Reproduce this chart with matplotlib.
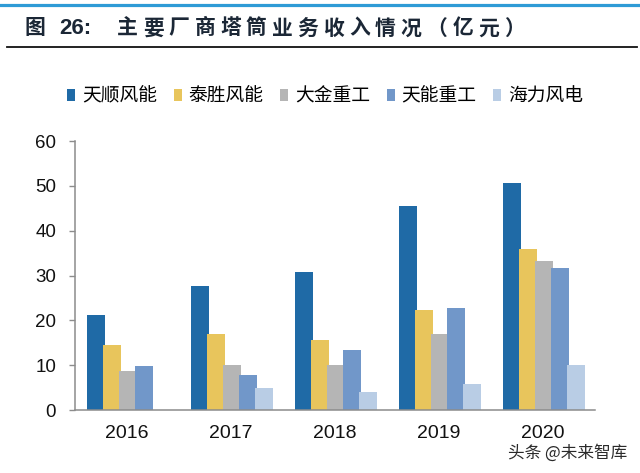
import numpy as np
import matplotlib.pyplot as plt
from matplotlib.patches import Patch

plt.rcParams['font.family'] = ['Liberation Sans', 'Noto Sans CJK SC', 'DejaVu Sans']
cjk = ['Noto Sans CJK SC', 'DejaVu Sans']

# data (亿元)
years = ['2016', '2017', '2018', '2019', '2020']
companies = ['天顺风能', '泰胜风能', '大金重工', '天能重工', '海力风电']
tianshun = [21.2, 27.7, 30.8, 45.6, 50.7]
taisheng = [14.6, 16.9, 15.6, 22.2, 35.9]
dajin = [8.7, 10.0, 10.0, 17.0, 33.2]
tianneng = [9.9, 7.7, 13.3, 22.8, 31.7]
haili = [0, 4.9, 4.1, 5.9, 10.0]
series = [tianshun, taisheng, dajin, tianneng, haili]
colors = ['#1F6AA6', '#E8C55C', '#B5B5B5', '#7197C9', '#B9CDE5']

W, H = 640, 473
fig = plt.figure(figsize=(W / 100, H / 100), dpi=100)

# header: blue rule, title, black rule
fig.add_artist(plt.Line2D([0.0, 1.0], [1 - 5.5 / H, 1 - 5.5 / H], color='#2E9BD6', lw=2.3))
fig.add_artist(plt.Line2D([7 / W, 637 / W], [1 - 47.5 / H, 1 - 47.5 / H], color='#111111', lw=1.3))
title_color = '#1B2736'
ty = 1 - 28 / H
fig.text(24 / W, ty, '图', fontsize=15, fontweight='bold', color=title_color,
         va='center', family=cjk)
fig.text(59 / W, ty, '26:', fontsize=16, fontweight='bold', color=title_color,
         va='center', family='Liberation Sans')
title = '主要厂商塔筒业务收入情况（亿元）'
for i, ch in enumerate(title):
    fig.text((117 + i * 25.8) / W, ty, ch, fontsize=15, fontweight='bold',
             color=title_color, va='center', family=cjk)

ax = fig.add_axes([75 / W, 1 - 410 / H, 520 / W, 269 / H])
x = np.arange(len(years))
step = 0.153
width = 0.175
for i, (vals, c) in enumerate(zip(series, colors)):
    ax.bar(x + (i - 2) * step + 0.01, vals, width, color=c, label=companies[i], zorder=2)

ax.set_xlim(-0.5, len(years) - 0.5)
ax.set_ylim(0, 60)
ax.set_yticks(range(0, 61, 10))
ax.set_xticks(x)
ax.set_xticklabels(years, fontsize=14)
ax.tick_params(axis='y', labelsize=13.5, length=4.5, width=1, color='#8C8C8C',
               direction='out', pad=9, labelcolor='#111111')
ax.tick_params(axis='x', length=0, pad=11, labelcolor='#111111')
for s in ['top', 'right']:
    ax.spines[s].set_visible(False)
ax.spines['left'].set_color('#8C8C8C')
ax.spines['bottom'].set_color('#8C8C8C')
ax.spines['left'].set_linewidth(1.1)
ax.spines['bottom'].set_linewidth(1.1)

handles = [Patch(facecolor=c, edgecolor='none') for c in colors]
fig.legend(handles, companies, loc='center', bbox_to_anchor=(325 / W, 1 - 96 / H), ncol=5,
           frameon=False, handlelength=0.45, handleheight=0.55,
           handletextpad=0.35, columnspacing=0.88, borderpad=0,
           prop={'family': cjk, 'size': 13.5})

fig.text(627 / W, 1 - 453 / H, '头条 @未来智库', fontsize=12, color='#2A2A2A', ha='right',
         va='center', family=cjk)

fig.savefig('out.png', dpi=100)
